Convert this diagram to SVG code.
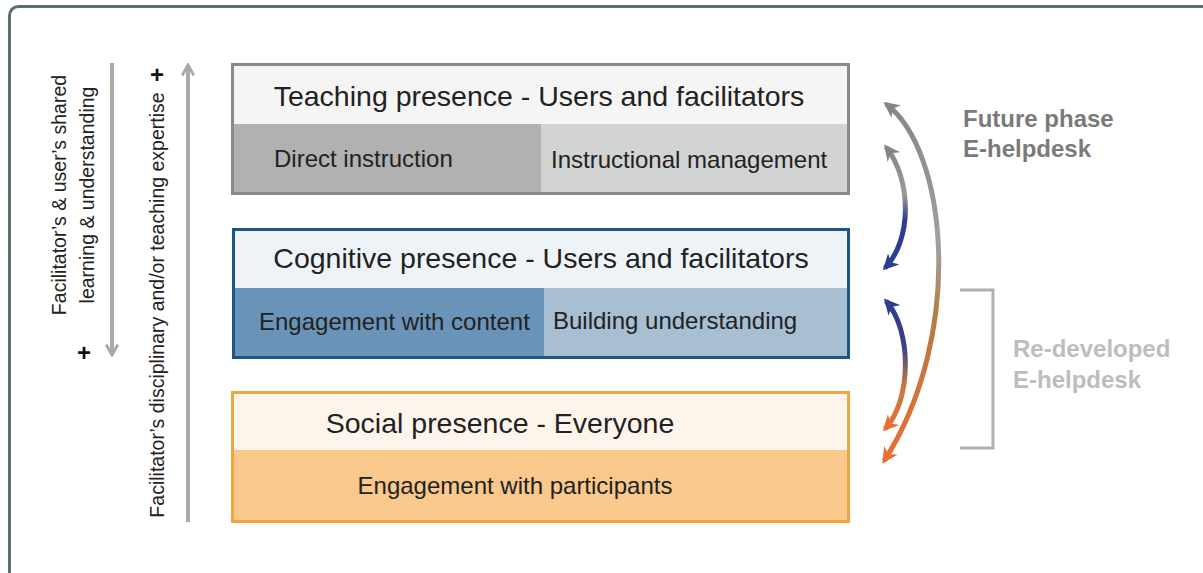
<svg xmlns="http://www.w3.org/2000/svg" width="1203" height="573" viewBox="0 0 1203 573">
<style>
text{font-family:"Liberation Sans",Arial,sans-serif;fill:#222}
.hd{font-size:28.5px}
.sb{font-size:24px}
.side{font-size:19.5px}
.plus{font-size:24px;font-weight:bold;fill:#111}
.fut{font-size:24px;font-weight:bold;fill:#7a7a7a}
.red{font-size:24px;font-weight:bold;fill:#bdbdbd}
.varr{fill:none;stroke:#aaaaaa;stroke-width:4}
.arc{fill:none;stroke-width:5}
</style>
<defs>
<marker id="vh" viewBox="0 0 12 12" refX="10" refY="6" markerWidth="14" markerHeight="14" markerUnits="userSpaceOnUse" orient="auto">
<path d="M1,1 L10,6 L1,11" fill="none" stroke="#aaaaaa" stroke-width="2.5"/>
</marker>
<marker id="mg" viewBox="0 0 10 10" refX="8" refY="5" markerWidth="16" markerHeight="16" markerUnits="userSpaceOnUse" orient="auto-start-reverse">
<path d="M0,0 L10,5 L0,10 L3,5 z" fill="#858585"/>
</marker>
<marker id="mb" viewBox="0 0 10 10" refX="8" refY="5" markerWidth="16" markerHeight="16" markerUnits="userSpaceOnUse" orient="auto-start-reverse">
<path d="M0,0 L10,5 L0,10 L3,5 z" fill="#2e3d8f"/>
</marker>
<marker id="mo" viewBox="0 0 10 10" refX="8" refY="5" markerWidth="16" markerHeight="16" markerUnits="userSpaceOnUse" orient="auto-start-reverse">
<path d="M0,0 L10,5 L0,10 L3,5 z" fill="#ec6e34"/>
</marker>
<linearGradient id="gBig" gradientUnits="userSpaceOnUse" x1="0" y1="100" x2="0" y2="465">
<stop offset="0" stop-color="#858585"/>
<stop offset="0.4" stop-color="#a0a0a0"/>
<stop offset="0.6" stop-color="#b87a40"/>
<stop offset="1" stop-color="#ec6e34"/>
</linearGradient>
<linearGradient id="gUp" gradientUnits="userSpaceOnUse" x1="0" y1="145" x2="0" y2="270">
<stop offset="0" stop-color="#858585"/>
<stop offset="0.4" stop-color="#9a9a9a"/>
<stop offset="0.6" stop-color="#2e3d8f"/>
<stop offset="1" stop-color="#2e3d8f"/>
</linearGradient>
<linearGradient id="gLo" gradientUnits="userSpaceOnUse" x1="0" y1="300" x2="0" y2="430">
<stop offset="0" stop-color="#2e3d8f"/>
<stop offset="0.35" stop-color="#3a3f88"/>
<stop offset="0.65" stop-color="#c07a40"/>
<stop offset="1" stop-color="#ec6e34"/>
</linearGradient>
</defs>
<rect width="1203" height="573" fill="#ffffff"/>
<rect id="frame" x="9.5" y="6.5" width="1220" height="600" rx="9" fill="#ffffff" stroke="#5b6e72" stroke-width="3"/>

<g id="teaching">
<rect x="232.5" y="64.5" width="616" height="129" fill="#f5f5f5" stroke="#8a8a8a" stroke-width="3"/>
<rect x="234" y="124" width="307" height="68" fill="#b1b1b1"/>
<rect x="541" y="124" width="306" height="68" fill="#d2d3d3"/>
<text class="hd" x="539" y="106" text-anchor="middle">Teaching presence - Users and facilitators</text>
<text class="sb" x="274" y="167">Direct instruction</text>
<text class="sb" x="551" y="168">Instructional management</text>
</g>

<g id="cognitive">
<rect x="233.5" y="229.5" width="615" height="128" fill="#eef3f8" stroke="#1f5585" stroke-width="3"/>
<rect x="235" y="288" width="309" height="68" fill="#6a93b8"/>
<rect x="544" y="288" width="303" height="68" fill="#a7bed3"/>
<text class="hd" x="541" y="268" text-anchor="middle">Cognitive presence - Users and facilitators</text>
<text class="sb" x="259" y="330">Engagement with content</text>
<text class="sb" x="553" y="329">Building understanding</text>
</g>

<g id="social">
<rect x="232.5" y="392.5" width="616" height="129" fill="#fdf5ec" stroke="#f0a540" stroke-width="3"/>
<rect x="234" y="450" width="613" height="70" fill="#f9c98c"/>
<text class="hd" x="500" y="433" text-anchor="middle">Social presence - Everyone</text>
<text class="sb" x="515" y="494" text-anchor="middle">Engagement with participants</text>
</g>

<g id="axis-shared">
<line class="varr" x1="112" y1="63" x2="112" y2="355" marker-end="url(#vh)"/>
<text class="side" transform="translate(66,195) rotate(-90)" text-anchor="middle">Facilitator’s  &amp; user’s shared</text>
<text class="side" transform="translate(94,195) rotate(-90)" text-anchor="middle">learning &amp; understanding</text>
<text class="plus" x="84" y="361" text-anchor="middle">+</text>
</g>

<g id="axis-expertise">
<line class="varr" x1="188" y1="522" x2="188" y2="65" marker-end="url(#vh)"/>
<text class="side" transform="translate(164,305) rotate(-90)" text-anchor="middle">Facilitator’s disciplinary and/or teaching expertise</text>
<text class="plus" x="157" y="83" text-anchor="middle">+</text>
</g>

<g id="future">
<text class="fut" x="963" y="127">Future phase</text>
<text class="fut" x="963" y="157">E-helpdesk</text>
</g>

<g id="redeveloped">
<path d="M960,290 H993 V448 H960" fill="none" stroke="#b0b0b0" stroke-width="3"/>
<text class="red" x="1013" y="357">Re-developed</text>
<text class="red" x="1013" y="388">E-helpdesk</text>
</g>

<g id="connectors">
<path class="arc" d="M886,104 C948,150 965,335 884,461" stroke="url(#gBig)" marker-start="url(#mg)" marker-end="url(#mo)"/>
<path class="arc" d="M886,147 C912,180 912,240 885,268" stroke="url(#gUp)" marker-start="url(#mg)" marker-end="url(#mb)"/>
<path class="arc" d="M886,301 C912,330 912,400 885,429" stroke="url(#gLo)" marker-start="url(#mb)" marker-end="url(#mo)"/>
</g>
</svg>
